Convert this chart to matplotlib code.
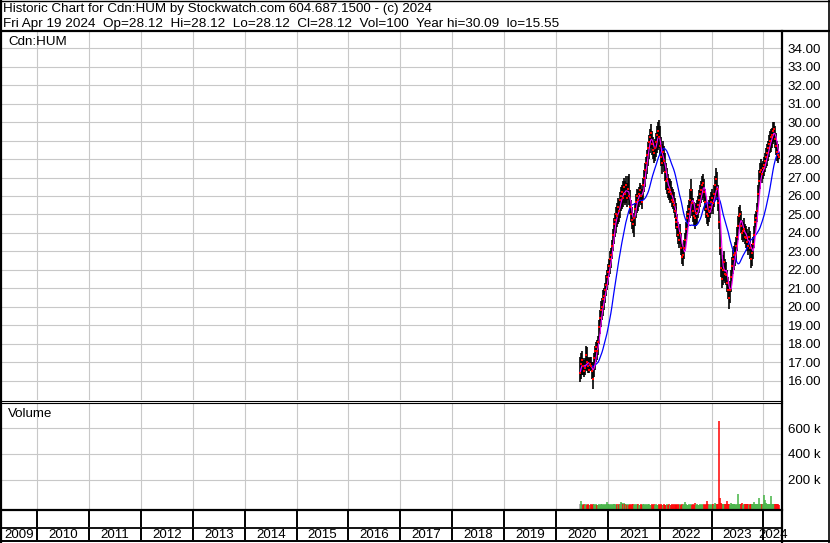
import numpy as np
import pandas as pd
import matplotlib
matplotlib.use('Agg')
import matplotlib.pyplot as plt
import matplotlib.dates as mdates
from matplotlib.lines import Line2D

plt.rcParams['font.family'] = ['Liberation Sans', 'DejaVu Sans']

# weekly bars (Fridays) 2020-06-19 .. 2024-04-19
weeks = pd.date_range(end='2024-04-19', periods=201, freq='7D')

close = [16.4, 16.9, 17.1, 16.8, 16.5, 16.7, 17.4, 17.0, 16.8, 16.6,
         16.9, 16.8, 16.5, 16.1, 17.2, 17.6, 17.8, 17.6, 18.1, 18.9,
         19.4, 19.8, 20.0, 20.4, 20.6, 20.9, 21.2, 21.6, 21.9, 22.2,
         22.6, 22.8, 23.3, 23.9, 24.5, 24.7, 25.0, 24.9, 25.4, 25.2,
         25.8, 26.0, 26.2, 25.9, 26.5, 26.1, 26.6, 25.9, 26.4, 26.0,
         25.4, 25.0, 24.7, 24.5, 24.8, 25.3, 25.7, 26.0, 25.8, 26.1,
         26.3, 26.0, 25.7, 26.6, 27.0, 27.4, 27.8, 28.2, 28.6, 28.9,
         29.2, 29.4, 28.8, 28.5, 28.3, 28.6, 28.9, 29.3, 29.5, 29.2,
         28.7, 28.1, 27.8, 28.4, 27.9, 27.3, 26.8, 26.9, 26.4, 26.2,
         26.3, 26.1, 25.8, 25.7, 25.5, 25.2, 24.8, 24.6, 24.3, 23.9,
         23.6, 24.0, 23.2, 22.7, 22.8, 23.2, 23.6, 24.2, 24.8, 25.0,
         25.3, 25.8, 26.3, 25.6, 25.2, 24.9, 24.8, 25.1, 25.3, 25.5,
         25.8, 26.1, 26.3, 26.6, 26.7, 26.2, 25.7, 25.3, 25.0, 24.9,
         25.2, 25.4, 25.7, 25.9, 25.6, 26.1, 26.6, 26.9, 26.4, 25.6,
         24.6, 23.2, 22.1, 21.5, 22.0, 22.4, 21.8, 21.7, 21.3, 20.9,
         20.5, 20.9, 21.6, 22.2, 22.6, 22.8, 22.9, 23.3, 23.8, 24.4,
         24.9, 25.0, 24.4, 24.0, 24.1, 24.2, 23.8, 23.7, 23.5, 23.3,
         23.8, 23.2, 22.6, 22.9, 23.4, 23.9, 24.6, 24.8, 25.2, 26.1,
         26.8, 27.3, 27.4, 27.2, 27.5, 27.7, 27.9, 28.1, 28.3, 28.6,
         28.8, 29.0, 29.2, 29.3, 29.5, 29.6, 29.1, 28.7, 28.4, 28.2,
         28.12]

high = [17.3, 17.5, 17.6, 17.2, 17.1, 17.2, 17.9, 17.8, 17.3, 17.2,
        17.3, 17.3, 17.0, 17.0, 17.5, 17.9, 18.1, 18.2, 18.4, 19.3,
        19.8, 20.3, 20.5, 20.9, 21.0, 21.3, 21.7, 22.0, 22.3, 22.6,
        23.0, 23.2, 23.6, 24.2, 24.8, 25.1, 25.4, 25.6, 25.9, 25.8,
        26.2, 26.5, 26.6, 26.8, 27.0, 26.8, 27.1, 26.7, 27.1, 27.2,
        26.3, 25.8, 25.4, 25.1, 24.9, 25.6, 26.1, 26.4, 26.3, 26.5,
        26.7, 26.6, 26.4, 27.0, 27.4, 27.8, 28.1, 28.5, 28.9, 29.3,
        29.6, 29.9, 29.5, 29.2, 29.0, 29.1, 29.4, 29.8, 30.0, 30.09,
        29.8, 29.2, 28.8, 29.0, 28.7, 28.3, 27.8, 27.5, 27.2, 27.0,
        26.9, 26.8, 26.5, 26.4, 26.2, 25.9, 25.6, 25.4, 25.0, 24.6,
        24.4, 24.5, 24.0, 23.4, 23.3, 23.6, 24.0, 24.6, 25.2, 25.5,
        25.8, 26.4, 26.9, 26.4, 25.9, 25.7, 25.5, 25.6, 25.8, 26.0,
        26.3, 26.6, 26.8, 27.1, 27.2, 26.9, 26.4, 26.0, 25.7, 25.6,
        25.8, 26.0, 26.2, 26.4, 26.1, 26.6, 27.1, 27.5, 27.3, 26.6,
        25.8, 24.6, 23.2, 22.6, 22.8, 23.0, 22.6, 22.4, 22.0, 21.6,
        21.2, 21.4, 22.0, 22.7, 23.1, 23.3, 23.5, 23.8, 24.3, 24.9,
        25.4, 25.5, 25.2, 24.7, 24.6, 24.8, 24.5, 24.4, 24.2, 24.0,
        24.3, 24.1, 23.4, 23.4, 23.8, 24.4, 25.0, 25.2, 25.6, 26.6,
        27.4, 27.8, 28.0, 27.8, 27.9, 28.1, 28.3, 28.6, 28.8, 29.0,
        29.3, 29.5, 29.6, 29.7, 30.0, 30.0, 29.8, 29.4, 29.0, 28.8,
        28.4]

low = [15.9, 16.1, 16.3, 16.3, 16.2, 16.3, 16.6, 16.5, 16.4, 16.4,
       16.5, 16.6, 16.1, 15.55, 16.2, 16.6, 17.0, 17.1, 17.4, 18.0,
       18.5, 18.9, 19.3, 19.5, 19.8, 20.2, 20.6, 20.9, 21.2, 21.6,
       21.8, 22.1, 22.6, 23.0, 23.4, 23.8, 24.0, 24.3, 24.5, 24.6,
       24.8, 25.2, 25.3, 25.4, 25.6, 25.5, 25.6, 25.4, 25.8, 25.5,
       25.0, 24.6, 24.2, 24.0, 23.8, 24.4, 24.8, 25.1, 25.2, 25.4,
       25.6, 25.5, 25.3, 25.8, 26.2, 26.5, 26.9, 27.2, 27.6, 28.0,
       28.3, 28.6, 28.2, 28.0, 27.8, 27.9, 28.1, 28.3, 28.5, 28.6,
       28.2, 27.6, 27.2, 27.6, 27.3, 26.8, 26.3, 26.1, 25.9, 25.8,
       25.6, 25.7, 25.4, 25.3, 25.1, 24.8, 24.4, 24.2, 23.8, 23.4,
       23.2, 23.4, 22.8, 22.3, 22.2, 22.6, 23.0, 23.6, 24.0, 24.3,
       24.6, 24.8, 25.2, 24.9, 24.6, 24.4, 24.2, 24.4, 24.5, 24.8,
       25.1, 25.4, 25.6, 25.8, 25.9, 25.7, 25.2, 24.8, 24.5, 24.4,
       24.6, 24.8, 25.0, 25.2, 25.0, 25.4, 25.8, 26.0, 25.8, 25.2,
       24.2, 22.8, 21.6, 21.0, 21.2, 21.4, 21.3, 21.2, 20.8, 20.4,
       19.9, 20.2, 20.8, 21.4, 21.8, 22.0, 22.2, 22.5, 23.0, 23.6,
       24.2, 24.4, 24.0, 23.6, 23.5, 23.6, 23.4, 23.2, 23.0, 22.8,
       23.0, 22.6, 22.1, 22.2, 22.6, 23.2, 24.0, 24.3, 24.6, 25.4,
       26.0, 26.4, 26.8, 26.7, 26.9, 27.1, 27.3, 27.5, 27.6, 27.9,
       28.1, 28.3, 28.4, 28.6, 28.8, 28.9, 28.6, 28.2, 27.9, 27.8,
       28.0]

# volume in thousands of shares
volume_k = [8, 33, 12, 6, 10, 5, 7, 4, 9, 6,
            5, 8, 6, 12, 7, 5, 9, 6, 4, 8,
            6, 10, 7, 5, 9, 6, 11, 27, 14, 8,
            6, 9, 5, 12, 7, 8, 6, 10, 5, 9,
            14, 24, 20, 9, 22, 7, 11, 6, 8, 5,
            9, 6, 14, 7, 5, 8, 6, 10, 7, 4,
            6, 9, 5, 7, 10, 6, 8, 5, 7, 9,
            6, 4, 8, 5, 7, 6, 9, 5, 6, 8,
            5, 7, 4, 6, 9, 5, 6, 8, 4, 7,
            6, 5, 8, 4, 7, 6, 9, 5, 6, 8,
            5, 7, 6, 9, 5, 8, 24, 7, 6, 5,
            8, 6, 9, 5, 7, 6, 15, 5, 8, 6,
            5, 7, 6, 9, 5, 8, 6, 7, 33, 9,
            6, 8, 5, 10, 7, 6, 22, 9, 12, 8,
            656, 61, 22, 10, 14, 8, 9, 12, 33, 7,
            8, 6, 15, 9, 7, 10, 8, 6, 12, 92,
            9, 7, 8, 20, 6, 9, 12, 7, 10, 8,
            6, 9, 7, 8, 11, 26, 9, 7, 10, 12,
            56, 14, 9, 12, 10, 79, 43, 15, 9, 11,
            8, 12, 72, 14, 9, 11, 8, 10, 7, 9,
            0.1]

years = list(range(2009, 2025))
price_ticks = list(range(16, 35))
vol_ticks = [200, 400, 600]

header1 = 'Historic Chart for Cdn:HUM by Stockwatch.com 604.687.1500 - (c) 2024'
header2 = ('Fri Apr 19 2024  Op=28.12  Hi=28.12  Lo=28.12  Cl=28.12  '
           'Vol=100  Year hi=30.09  lo=15.55')

W, H = 830, 543
fig = plt.figure(figsize=(W / 100, H / 100), dpi=100)
fig.patch.set_facecolor('white')


def box(x0, y0, x1, y1):
    # pixel box measured from the top left corner
    return [x0 / W, 1 - y1 / H, (x1 - x0) / W, (y1 - y0) / H]


def hline(y, x0, x1, lw):
    fig.add_artist(Line2D([x0 / W, x1 / W], [1 - y / H, 1 - y / H],
                          transform=fig.transFigure, color='black', lw=lw))


def vline(x, y0, y1, lw):
    fig.add_artist(Line2D([x / W, x / W], [1 - y0 / H, 1 - y1 / H],
                          transform=fig.transFigure, color='black', lw=lw))


ax = fig.add_axes(box(2, 32, 782, 400))
axv = fig.add_axes(box(2, 403, 782, 509))
axt = fig.add_axes(box(2, 511, 782, 527))
axy = fig.add_axes(box(2, 528, 782, 540))

x = mdates.date2num(weeks.values)
bounds = mdates.date2num([pd.Timestamp(f'{y}-01-01') for y in years[1:]])
xmin = mdates.date2num(pd.Timestamp('2009-04-27'))
xmax = mdates.date2num(pd.Timestamp('2024-05-11'))

grid_kw = dict(color='#c8c8c8', lw=0.8, zorder=0)

# price panel
for b in bounds:
    ax.axvline(b, **grid_kw)
for p in price_ticks:
    ax.axhline(p, **grid_kw)
ax.vlines(x, low, high, color='black', lw=1.2, zorder=2)
cs = pd.Series(close)
ax.plot(x, cs.rolling(20, min_periods=1).mean(), color='#0000ff', lw=0.9, zorder=3)
ax.plot(x, cs.rolling(4, min_periods=1).mean(), color='#ff00ff', lw=0.8, zorder=4)
ax.plot(x, close, 's', color='red', ms=2.0, mew=0, zorder=5)
ax.set_xlim(xmin, xmax)
ax.set_ylim(14.95, 34.88)
ax.set_xticks([])
ax.yaxis.tick_right()
ax.set_yticks(price_ticks)
ax.set_yticklabels([f'{p:.2f}' for p in price_ticks])
ax.tick_params(axis='y', length=0, pad=4, labelsize=9.6)
for s in ax.spines.values():
    s.set_visible(False)
ax.text(0.008, 0.973, 'Cdn:HUM', transform=ax.transAxes, fontsize=9.6,
        ha='left', va='center')

# volume panel
vol = np.array(volume_k)
diff = np.diff(np.r_[close[0], close])
cols = np.where(diff > 0, '#44b444', np.where(diff < 0, '#ff0000', '#a0a0a0'))
vlow = -28
for b in bounds:
    axv.axvline(b, **grid_kw)
for v in vol_ticks:
    axv.axhline(v, **grid_kw)
axv.vlines(x, vlow, vol, colors=cols, lw=1.1, zorder=2)
axv.set_xlim(xmin, xmax)
axv.set_ylim(vlow, 795)
axv.set_xticks([])
axv.yaxis.tick_right()
axv.set_yticks(vol_ticks)
axv.set_yticklabels([f'{v} k' for v in vol_ticks])
axv.tick_params(axis='y', length=0, pad=4, labelsize=9.6)
for s in axv.spines.values():
    s.set_visible(False)
axv.text(0.008, 0.9, 'Volume', transform=axv.transAxes, fontsize=9.6,
         ha='left', va='center')

# year tick strip and labels
for a in (axt, axy):
    a.set_xlim(xmin, xmax)
    a.set_ylim(0, 1)
    a.vlines(bounds, 0, 1, color='black', lw=1.4)
    a.set_xticks([])
    a.set_yticks([])
    for s in a.spines.values():
        s.set_visible(False)
edges = np.r_[xmin, bounds, xmax]
for i, y in enumerate(years):
    axy.text((edges[i] + edges[i + 1]) / 2, 0.45, str(y), ha='center',
             va='center', fontsize=9.6, clip_on=False)

# header
fig.text(3 / W, 1 - 9 / H, header1, fontsize=9.6, ha='left', va='center')
fig.text(3 / W, 1 - 23.5 / H, header2, fontsize=9.7, ha='left', va='center')

# frame lines
hline(0.5, 0, W, 1.0)
hline(31, 0, W, 1.6)
hline(400.5, 0, 782, 0.8)
hline(402.5, 0, 782, 0.8)
hline(510, 0, 782, 1.6)
hline(527.5, 0, 782, 1.3)
hline(541, 0, W, 1.4)
vline(1, 0, H, 1.6)
vline(782, 31, H, 1.6)
vline(829, 0, H, 1.2)

fig.savefig('out.png', dpi=100, facecolor='white')
